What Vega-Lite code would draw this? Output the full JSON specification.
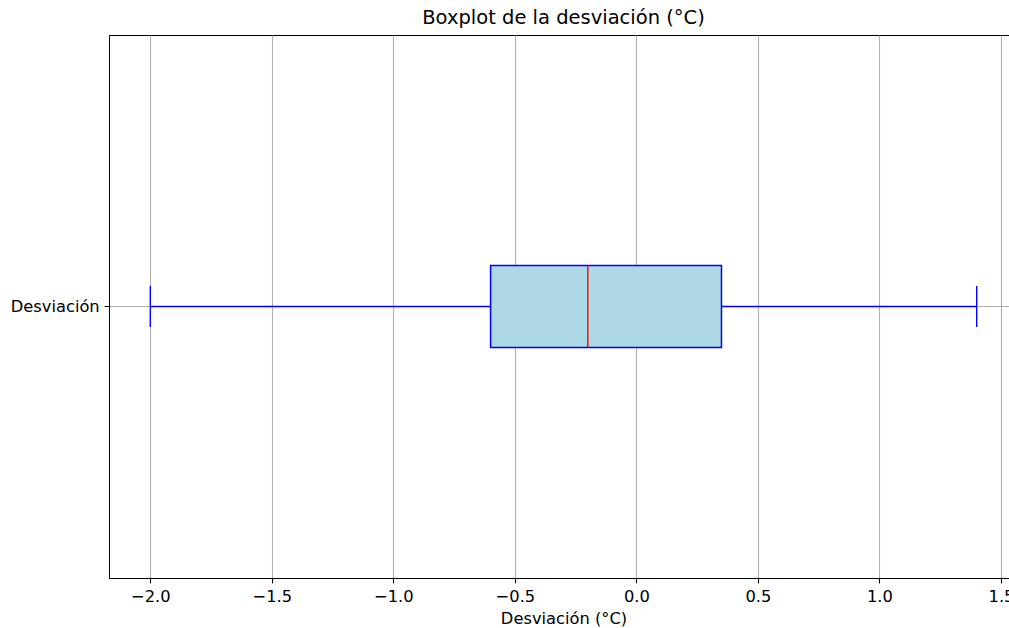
{
  "$schema": "https://vega.github.io/schema/vega-lite/v6.json",
  "autosize": {"type": "none"},
  "padding": {"left": 109, "top": 35, "right": 0, "bottom": 50},
  "width": 909,
  "height": 543,
  "title": {"text": "Boxplot de la desviación (°C)", "anchor": "middle", "font": "DejaVu Sans", "fontSize": 19.5, "fontWeight": "normal", "color": "#000000", "offset": 7},
  "data": {"values": [{"serie": "Desviación", "min": -2.0, "q1": -0.6, "median": -0.2, "q3": 0.35, "max": 1.4}]},
  "config": {
    "view": {"stroke": "#000000", "strokeWidth": 1},
    "axis": {
      "labelFont": "DejaVu Sans", "labelFontSize": 16.3, "labelColor": "#000000",
      "titleFont": "DejaVu Sans", "titleFontSize": 16.3, "titleFontWeight": "normal", "titleColor": "#000000",
      "tickColor": "#000000", "tickSize": 4.9, "tickWidth": 1.1,
      "domainColor": "#000000", "domainWidth": 1,
      "gridColor": "#b0b0b0", "gridWidth": 1.1, "gridOpacity": 1,
      "labelPadding": 4.9
    }
  },
  "encoding": {
    "y": {"field": "serie", "type": "nominal", "scale": {"paddingInner": 0, "paddingOuter": 0},
      "axis": {"title": null, "grid": true, "bandPosition": 0.5, "labelPadding": 4.9}}
  },
  "layer": [
    {
      "mark": {"type": "rule", "color": "#0000ff", "strokeWidth": 1.4},
      "encoding": {
        "x": {"field": "min", "type": "quantitative",
          "scale": {"domain": [-2.17, 1.57], "nice": false, "zero": false},
          "axis": {"title": "Desviación (°C)", "values": [-2.0, -1.5, -1.0, -0.5, 0.0, 0.5, 1.0, 1.5],
            "labelExpr": "replace(format(datum.value, '.1f'), '-', '−')", "grid": true, "labelPadding": 6, "titlePadding": 5, "labelFlush": false, "labelOverlap": false}},
        "x2": {"field": "q1"}
      }
    },
    {
      "mark": {"type": "rule", "color": "#0000ff", "strokeWidth": 1.4},
      "encoding": {"x": {"field": "q3", "type": "quantitative"}, "x2": {"field": "max"}}
    },
    {
      "mark": {"type": "bar", "size": 82, "fill": "#add8e6", "stroke": "#0000ff", "strokeWidth": 1.5},
      "encoding": {"x": {"field": "q1", "type": "quantitative"}, "x2": {"field": "q3"}}
    },
    {
      "mark": {"type": "tick", "orient": "vertical", "size": 82, "thickness": 1.4, "color": "#ff0000", "opacity": 1},
      "encoding": {"x": {"field": "median", "type": "quantitative"}}
    },
    {
      "mark": {"type": "tick", "orient": "vertical", "size": 41, "thickness": 1.4, "color": "#0000ff", "opacity": 1},
      "encoding": {"x": {"field": "min", "type": "quantitative"}}
    },
    {
      "mark": {"type": "tick", "orient": "vertical", "size": 41, "thickness": 1.4, "color": "#0000ff", "opacity": 1},
      "encoding": {"x": {"field": "max", "type": "quantitative"}}
    }
  ]
}
